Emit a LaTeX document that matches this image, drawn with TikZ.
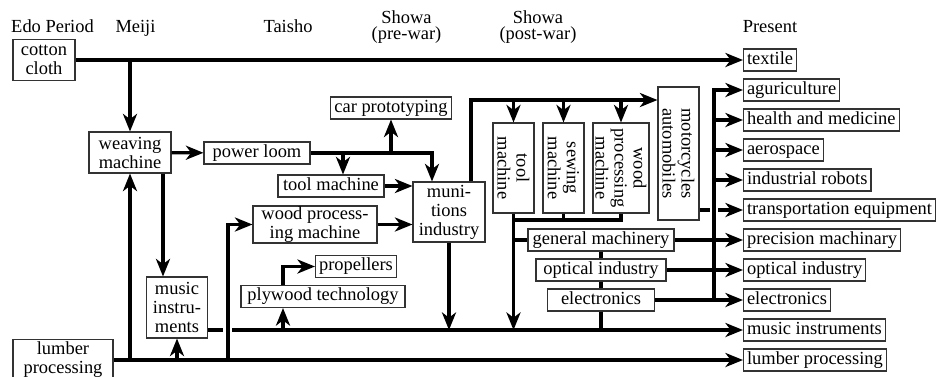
\documentclass[tikz,border=0pt]{standalone}
\usepackage{fontspec}
\setmainfont{Liberation Serif}
\usetikzlibrary{arrows.meta}

\begin{document}
\begin{tikzpicture}[
			frame/.style={rectangle, draw=black!80, line width=0.6pt, inner xsep=2pt, inner ysep=0pt, align=center, font=\fontsize{10.5}{10.8}\selectfont},
			box/.style={frame, minimum height=0.44cm, text height=7.4pt, text depth=2.4pt},
			vbox/.style={frame, rotate=-90, minimum width=1.8cm, minimum height=0.82cm},
			era/.style={align=center, inner sep=0pt, font=\fontsize{10.5}{9.6}\selectfont},
			link/.style={line width=1.8pt},
			arrow/.style={link, -{Stealth[length=10pt, width=8pt, inset=3pt]}}
		]
		\useasboundingbox (0, 0) rectangle (18.78, -7.52);

		% Epoche
		\node[era, anchor=base] (edo) at (1.05, -0.64) {Edo Period};
		\node[era, anchor=base] (meiji) at (2.71, -0.64) {Meiji};
		\node[era, anchor=base] (taisho) at (5.76, -0.64) {Taisho};
		\node[era] (prewar) at (8.13, -0.54) {Showa\\(pre-war)};
		\node[era] (postwar) at (10.76, -0.54) {Showa\\(post-war)};
		\node[era, anchor=base] (present) at (15.4, -0.64) {Present};

		% Nodi
		\node[frame, minimum width=1.24cm, minimum height=0.82cm] (cotton) at (0.88, -1.2) {cotton\\cloth};
		\node[frame, minimum width=1.64cm, minimum height=0.82cm] (weaving) at (2.6, -3.05) {weaving\\machine};
		\node[box, minimum width=2.12cm] (loom) at (5.14, -3.06) {power loom};
		\node[box, minimum width=2.32cm] (carproto) at (7.82, -2.16) {car prototyping};
		\node[box, minimum width=2.12cm] (toolm) at (6.62, -3.72) {tool machine};
		\node[frame, minimum width=2.48cm, minimum height=0.74cm] (woodm) at (6.3, -4.49) {wood process-\\ing machine};
		\node[frame, minimum width=1.44cm, minimum height=1.2cm] (munitions) at (8.98, -4.24) {muni-\\tions\\industry};
		\node[box, minimum width=1.62cm] (propellers) at (7.12, -5.33) {propellers};
		\node[box, minimum width=3.28cm] (plywood) at (6.46, -5.93) {plywood technology};
		\node[frame, minimum width=1.22cm, minimum height=1.22cm] (musicold) at (3.54, -6.15) {music\\instru-\\ments};
		\node[frame, minimum width=2.0cm, minimum height=0.82cm] (lumber) at (1.26, -7.2) {lumber\\processing};

		\node[vbox] (toolv) at (10.27, -3.36) {tool\\machine};
		\node[vbox] (sewing) at (11.27, -3.36) {sewing\\machine};
		\node[vbox, minimum height=1.12cm] (woodv) at (12.42, -3.36) {wood\\processing\\machine};
		\node[vbox, minimum width=2.66cm] (motor) at (13.57, -3.07) {motorcycles\\automobiles};

		\node[box, minimum width=2.92cm] (general) at (12.02, -4.8) {general machinery};
		\node[box, minimum width=2.6cm] (opticalm) at (12.02, -5.4) {optical industry};
		\node[box, minimum width=2.14cm] (electm) at (12.02, -6.0) {electronics};

		\node[box, anchor=west] (textile) at (14.86, -1.2) {textile};
		\node[box, anchor=west] (agri) at (14.86, -1.8) {aguriculture};
		\node[box, anchor=west] (health) at (14.86, -2.4) {health and medicine};
		\node[box, anchor=west] (aero) at (14.86, -3.0) {aerospace};
		\node[box, anchor=west] (robots) at (14.86, -3.6) {industrial robots};
		\node[box, anchor=west] (transport) at (14.86, -4.2) {transportation equipment};
		\node[box, anchor=west] (precision) at (14.86, -4.8) {precision machinary};
		\node[box, anchor=west] (optical) at (14.86, -5.4) {optical industry};
		\node[box, anchor=west] (electronics) at (14.86, -6.0) {electronics};
		\node[box, anchor=west] (musicnew) at (14.86, -6.6) {music instruments};
		\node[box, anchor=west] (lumberp) at (14.86, -7.2) {lumber processing};

		\coordinate (jw) at (4.56, -7.2);
		\coordinate (mbus) at (9.42, -2.0);
		\coordinate (vbot) at (0, -4.4);
		\coordinate (rbus) at (14.28, 0);

		% Frecce
		\draw[arrow] (cotton.east) -- (textile.west);
		\draw[arrow] (weaving |- cotton.east) -- (weaving.north);
		\draw[arrow] (weaving) -- (loom);
		\draw[arrow] ([xshift=-0.28cm]musicold.north |- weaving.south) -- ([xshift=-0.28cm]musicold.north);

		\draw[arrow] (lumber.east) -- (lumberp.west);
		\draw[arrow] (weaving.south |- lumber.east) -- (weaving.south);
		\draw[arrow] (musicold.south |- lumber.east) -- (musicold.south);
		\draw[arrow] (jw) |- (woodm.west);

		\draw[link] (musicold.east |- musicnew.west) -- ([xshift=-0.1cm]jw |- musicnew.west);
		\draw[arrow] ([xshift=0.08cm]jw |- musicnew.west) -- (musicnew.west);
		\draw[arrow] ([xshift=-0.8cm]plywood.south |- musicnew.west) -- ([xshift=-0.8cm]plywood.south);
		\draw[arrow] ([xshift=-0.8cm]plywood.north) |- (propellers.west);

		\draw[arrow] (loom.east) -| ([xshift=-0.34cm]munitions.north);
		\draw[arrow] ([xshift=0.24cm]toolm.north |- loom.east) -- ([xshift=0.24cm]toolm.north);
		\draw[arrow] (carproto.south |- loom.east) -- (carproto.south);
		\draw[arrow] (toolm.east) -- (toolm.east -| munitions.west);
		\draw[arrow] (woodm.east) -- (woodm.east -| munitions.west);
		\draw[arrow] (munitions.south) -- (munitions.south |- musicnew.west);

		\draw[arrow] (munitions.north -| mbus) |- (motor.south |- mbus);
		\draw[arrow] (toolv.west |- mbus) -- (toolv.west);
		\draw[arrow] (sewing.west |- mbus) -- (sewing.west);
		\draw[arrow] (woodv.west |- mbus) -- (woodv.west);

		\draw[link] (toolv.east) |- (vbot -| woodv.east) -- (woodv.east);
		\draw[link] (sewing.east) -- (sewing.east |- vbot);
		\draw[arrow] (toolv.east |- vbot) -- (toolv.east |- musicnew.west);
		\draw[link] (toolv.east |- general.west) -- (general.west);

		\draw[link] (general.south) -- (opticalm.north);
		\draw[link] (opticalm.south) -- (electm.north);
		\draw[link] (electm.south) -- (electm.south |- musicnew.west);
		\draw[arrow] (general.east) -- (precision.west);
		\draw[arrow] (opticalm.east) -- (optical.west);
		\draw[arrow] (electm.east) -- (electronics.west);

		\draw[arrow] (rbus |- electronics.west) |- (agri.west);
		\draw[arrow] (rbus |- health.west) -- (health.west);
		\draw[arrow] (rbus |- aero.west) -- (aero.west);
		\draw[arrow] (rbus |- robots.west) -- (robots.west);

		\draw[link] (motor.north |- transport.west) -- ++(0.2, 0);
		\draw[arrow] ([xshift=-0.5cm]transport.west) -- (transport.west);
	\end{tikzpicture}
\end{document}
